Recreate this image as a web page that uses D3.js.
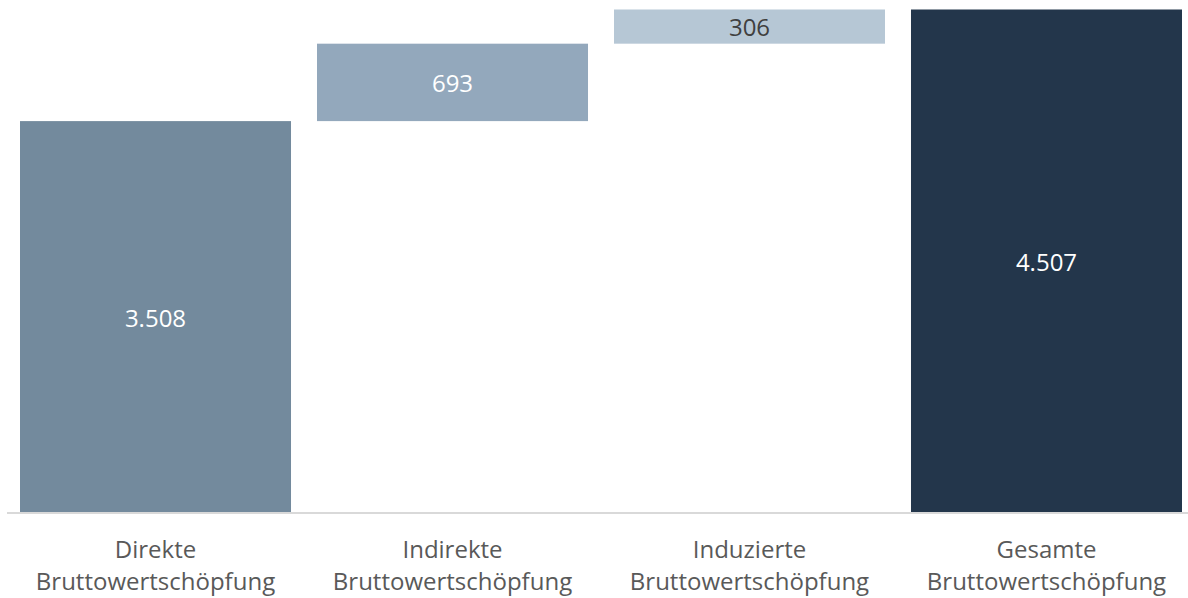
<!DOCTYPE html>
<html>
<head>
<meta charset="utf-8">
<script src="https://cdn.jsdelivr.net/npm/d3@7"></script>
<style>
  html, body { margin: 0; padding: 0; background: #fff; }
  svg { display: block; font-family: "Open Sans", sans-serif; }
</style>
</head>
<body>
<svg id="chart" width="1188" height="598"></svg>
<script>
// Waterfall of gross value added (Bruttowertschöpfung)
const categories = [
  ["Direkte", "Bruttowertschöpfung"],
  ["Indirekte", "Bruttowertschöpfung"],
  ["Induzierte", "Bruttowertschöpfung"],
  ["Gesamte", "Bruttowertschöpfung"]
];
const values = [3508, 693, 306, 4507];
const isTotal = [false, false, false, true];
const valueLabels = ["3.508", "693", "306", "4.507"];
const barColors = ["#738a9d", "#93a8bc", "#b6c7d5", "#23364b"];
const labelColors = ["#ffffff", "#ffffff", "#404040", "#ffffff"];

const svg = d3.select("#chart");
const baseY = 513, topY = 9.5;

// compute start/end of each step
let running = 0;
const rows = values.map((v, i) => {
  let y0, y1;
  if (isTotal[i]) { y0 = 0; y1 = v; running = v; }
  else { y0 = running; y1 = running + v; running = y1; }
  return { i, key: categories[i].join(" "), lines: categories[i], v, y0, y1, label: valueLabels[i] };
});

const x = d3.scaleBand()
  .domain(rows.map(d => d.key))
  .range([20, 1182])
  .paddingInner(0.0875)
  .paddingOuter(0);

const y = d3.scaleLinear()
  .domain([0, 4507])
  .range([baseY, topY]);

// bars
svg.append("g").selectAll("rect")
  .data(rows)
  .join("rect")
  .attr("x", d => x(d.key))
  .attr("width", x.bandwidth())
  .attr("y", d => y(d.y1))
  .attr("height", d => y(d.y0) - y(d.y1))
  .attr("fill", d => barColors[d.i]);

// value labels centred in bars
svg.append("g").selectAll("text")
  .data(rows)
  .join("text")
  .attr("x", d => x(d.key) + x.bandwidth() / 2)
  .attr("y", d => (y(d.y0) + y(d.y1)) / 2)
  .attr("text-anchor", "middle")
  .attr("dominant-baseline", "central")
  .attr("font-size", 24)
  .attr("fill", d => labelColors[d.i])
  .text(d => d.label);

// baseline axis
const axis = svg.append("g")
  .attr("transform", `translate(0,${baseY})`)
  .call(d3.axisBottom(x).tickSize(0).tickFormat(""));
axis.select(".domain").remove();
axis.append("line")
  .attr("x1", 7).attr("x2", 1188)
  .attr("y1", 0).attr("y2", 0)
  .attr("stroke", "#d9d9d9")
  .attr("stroke-width", 2);

// category labels (two lines)
const lab = svg.append("g").selectAll("text")
  .data(rows)
  .join("text")
  .attr("text-anchor", "middle")
  .attr("font-size", 24)
  .attr("fill", "#595959");
lab.selectAll("tspan")
  .data(d => d.lines.map((t, k) => ({ t, k, cx: x(d.key) + x.bandwidth() / 2 })))
  .join("tspan")
  .attr("x", d => d.cx)
  .attr("y", d => 548 + d.k * 32)
  .attr("dominant-baseline", "central")
  .text(d => d.t);
</script>
</body>
</html>
